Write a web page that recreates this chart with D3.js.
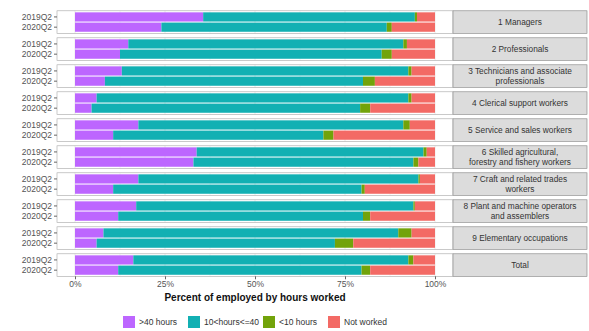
<!DOCTYPE html>
<html>
<head>
<meta charset="utf-8">
<script src="https://cdn.jsdelivr.net/npm/d3@7"></script>
<style>
  body { margin: 0; background: #fff; }
  svg text { font-family: "Liberation Sans", Arial, sans-serif; }
</style>
</head>
<body>
<div id="chart"></div>
<script>
// Employed by hours worked, per occupation, Q2 2019 vs Q2 2020
const occupations = [
  "1 Managers", "2 Professionals", "3 Technicians and associate\nprofessionals",
  "4 Clerical support workers", "5 Service and sales workers",
  "6 Skilled agricultural,\nforestry and fishery workers", "7 Craft and related trades\nworkers",
  "8 Plant and machine operators\nand assemblers", "9 Elementary occupations", "Total"
];
const quarters = ["2019Q2", "2020Q2"];
const seriesNames = [">40 hours", "10<hours<=40", "<10 hours", "Not worked"];
const seriesColors = ["#BD66FF", "#12B0B3", "#72A30A", "#F36A65"];

// percent of employed, one value per occupation
const over40_2019 = [35.6, 14.8, 13.0, 6.0, 17.6, 33.8, 17.6, 17.0, 7.9, 16.2];
const over40_2020 = [24.0, 12.5, 8.3, 4.6, 10.6, 32.9, 10.6, 12.0, 6.0, 12.0];
const h10to40_2019 = [58.8, 76.4, 79.6, 86.6, 73.6, 63.0, 77.8, 77.0, 81.9, 76.4];
const h10to40_2020 = [62.6, 72.7, 71.7, 74.6, 58.4, 61.1, 69.0, 68.0, 66.2, 67.6];
const under10_2019 = [0.6, 1.0, 0.9, 0.9, 1.8, 0.9, 0.4, 0.4, 3.7, 1.4];
const under10_2020 = [1.4, 2.8, 3.3, 2.8, 2.8, 1.4, 0.9, 2.0, 5.1, 2.4];
const notWorked_2019 = [5.0, 7.8, 6.5, 6.5, 7.0, 2.3, 4.2, 5.6, 6.5, 6.0];
const notWorked_2020 = [12.0, 12.0, 16.7, 18.0, 28.2, 4.6, 19.5, 18.0, 22.7, 18.0];
const xTicks = [0, 25, 50, 75, 100];

const byQuarter = {
  "2019Q2": [over40_2019, h10to40_2019, under10_2019, notWorked_2019],
  "2020Q2": [over40_2020, h10to40_2020, under10_2020, notWorked_2020]
};

const rows = [];
occupations.forEach((occ, i) => {
  quarters.forEach(q => {
    const vals = byQuarter[q].map(a => a[i]);
    const total = d3.sum(vals);
    let acc = 0;
    vals.forEach((v, k) => {
      rows.push({ occ, q, series: k, x0: acc / total * 100, x1: (acc + v) / total * 100 });
      acc += v;
    });
  });
});

const W = 589, H = 331;
const svg = d3.select("#chart").append("svg").attr("width", W).attr("height", H);

const x = d3.scaleLinear().domain([0, 100]).range([75, 435]);
const panelL = x(-5), panelR = x(105);
const stripR = 587;
const facet = d3.scaleBand().domain(occupations).range([10.8, 276.3]).paddingInner(0.1667).paddingOuter(0);
const yq = d3.scaleBand().domain(quarters).range([0, facet.bandwidth()]).paddingInner(0.1).paddingOuter(0.15);

occupations.forEach(occ => {
  const top = facet(occ), h = facet.bandwidth();
  const g = svg.append("g").attr("transform", `translate(0,${top})`);

  g.append("rect").attr("x", panelL).attr("y", 0).attr("width", panelR - panelL).attr("height", h)
    .attr("fill", "#fff");
  // grid
  d3.range(0, 101, 12.5).forEach(t => {
    g.append("line").attr("x1", x(t)).attr("x2", x(t)).attr("y1", 0).attr("y2", h)
      .attr("stroke", "#ebebeb").attr("stroke-width", t % 25 === 0 ? 1 : 0.5);
  });

  g.selectAll("rect.bar")
    .data(rows.filter(r => r.occ === occ))
    .join("rect")
    .attr("class", "bar")
    .attr("x", d => x(d.x0))
    .attr("width", d => x(d.x1) - x(d.x0))
    .attr("y", d => yq(d.q))
    .attr("height", yq.bandwidth())
    .attr("fill", d => seriesColors[d.series]);

  g.append("rect").attr("x", panelL).attr("y", 0).attr("width", panelR - panelL).attr("height", h)
    .attr("fill", "none").attr("stroke", "#a5a5a5").attr("stroke-width", 0.6);

  // y axis
  const ay = g.append("g").attr("transform", `translate(${panelL},0)`)
    .call(d3.axisLeft(yq).tickSize(3).tickPadding(2));
  ay.select(".domain").remove();
  ay.selectAll("line").attr("stroke", "#666");
  ay.selectAll("text").attr("font-size", 8.5).attr("fill", "#555");

  // strip
  g.append("rect").attr("x", panelR).attr("y", 0).attr("width", stripR - panelR).attr("height", h)
    .attr("fill", "#dcdcdc").attr("stroke", "#808080").attr("stroke-width", 0.6);
  const lines = occ.split("\n");
  const st = g.append("text").attr("x", (panelR + stripR) / 2).attr("text-anchor", "middle")
    .attr("font-size", 8.3).attr("fill", "#333");
  lines.forEach((ln, i) => {
    st.append("tspan").attr("x", (panelR + stripR) / 2)
      .attr("y", h / 2 + (i - (lines.length - 1) / 2) * 9.2)
      .attr("dy", "0.35em").text(ln);
  });
});

// x axis
const bottom = facet(occupations[occupations.length - 1]) + facet.bandwidth();
const ax = svg.append("g").attr("transform", `translate(0,${bottom})`)
  .call(d3.axisBottom(x).tickValues(xTicks).tickFormat(d => d + "%").tickSize(3).tickPadding(2));
ax.select(".domain").remove();
ax.selectAll("line").attr("stroke", "#666");
ax.selectAll("text").attr("font-size", 8.5).attr("fill", "#555");

svg.append("text").attr("x", (panelL + panelR) / 2).attr("y", 301)
  .attr("text-anchor", "middle").attr("font-size", 10).attr("font-weight", "bold")
  .attr("fill", "#111").text("Percent of employed by hours worked");

// legend
const legend = svg.append("g").attr("transform", "translate(0,316)");
const keyX = [123, 188, 263, 328];
seriesNames.forEach((name, i) => {
  const lg = legend.append("g").attr("transform", `translate(${keyX[i]},0)`);
  lg.append("rect").attr("width", 12).attr("height", 12).attr("fill", seriesColors[i]);
  lg.append("text").attr("x", 16).attr("y", 9).attr("font-size", 8.5).attr("fill", "#333").text(name);
});
</script>
</body>
</html>
